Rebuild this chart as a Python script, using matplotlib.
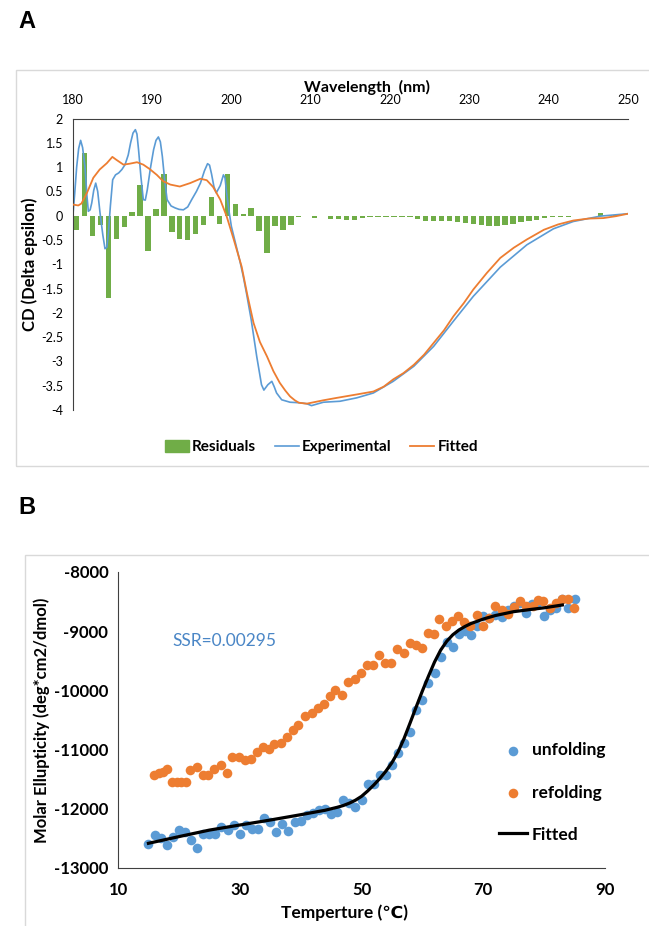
import matplotlib
matplotlib.use('Agg')
import matplotlib.pyplot as plt
import numpy as np
from matplotlib.patches import Rectangle, Patch
from matplotlib.lines import Line2D
from matplotlib.ticker import FuncFormatter

plt.rcParams['font.family'] = ['Lato', 'DejaVu Sans']
plt.rcParams['axes.unicode_minus'] = False

# ---- panel A data: CD spectrum ----
res_wl = np.arange(180.5, 250, 1.0)
res_cd = [-0.30, 1.30, -0.41, -0.19, -1.69, -0.49, -0.23, 0.08, 0.64, -0.72,
          0.14, 0.85, -0.34, -0.47, -0.51, -0.38, -0.19, 0.38, -0.17, 0.86,
          0.24, 0.04, 0.16, -0.32, -0.77, -0.21, -0.29, -0.20, -0.03, -0.01,
          -0.05, -0.01, -0.07, -0.07, -0.08, -0.08, -0.04, -0.03, -0.03, -0.03,
          -0.02, -0.02, -0.02, -0.06, -0.10, -0.10, -0.11, -0.12, -0.14, -0.15,
          -0.17, -0.19, -0.22, -0.22, -0.20, -0.17, -0.14, -0.11, -0.08, -0.05,
          -0.03, -0.02, -0.02, -0.01, -0.01, 0.00, 0.05, 0.01, 0.01, 0.00]

exp_wl = [180.0, 180.25, 180.5, 180.75, 181.0, 181.25, 181.55, 181.8, 181.97, 182.2,
          182.4, 182.65, 182.9, 183.15, 183.45, 183.8, 184.07, 184.3, 184.5, 184.75,
          185.04, 185.4, 185.8, 186.2, 186.6, 187.0, 187.3, 187.6, 187.9, 188.1,
          188.3, 188.6, 188.9, 189.15, 189.4, 189.8, 190.2, 190.5, 190.8, 191.05,
          191.3, 191.6, 191.9, 192.4, 192.9, 193.4, 193.95, 194.5, 195.0, 195.6,
          196.1, 196.6, 197.0, 197.25, 197.5, 197.8, 198.1, 198.6, 199.0, 199.2,
          199.4, 199.7, 200.0, 200.5, 201.1, 201.5, 201.9, 202.5, 203.2, 203.8,
          204.1, 204.6, 205.1, 205.4, 205.7, 206.35, 207.4, 208.5, 209.5, 210.1,
          211.6, 213.7, 215.8, 217.9, 220.4, 223.0, 225.5, 228.0, 230.5, 233.9,
          237.25, 240.6, 243.1, 246.5, 250.0]
exp_cd = [-0.05, 0.45, 1.00, 1.38, 1.55, 1.40, 1.00, 0.40, 0.09, 0.12,
          0.26, 0.52, 0.67, 0.50, 0.05, -0.40, -0.68, -0.65, -0.36, 0.20,
          0.74, 0.84, 0.88, 0.95, 1.05, 1.25, 1.50, 1.70, 1.77, 1.68,
          1.36, 0.80, 0.33, 0.32, 0.53, 0.98, 1.36, 1.55, 1.62, 1.52,
          1.22, 0.72, 0.33, 0.20, 0.16, 0.13, 0.12, 0.18, 0.33, 0.50,
          0.67, 0.92, 1.07, 1.04, 0.86, 0.60, 0.47, 0.62, 0.84, 0.78,
          0.47, 0.10, -0.22, -0.55, -0.95, -1.25, -1.59, -2.14, -2.90, -3.48,
          -3.59, -3.48, -3.41, -3.52, -3.65, -3.79, -3.84, -3.85, -3.87, -3.91,
          -3.84, -3.82, -3.75, -3.65, -3.41, -3.10, -2.69, -2.17, -1.66, -1.06,
          -0.60, -0.27, -0.12, -0.01, 0.04]

fit_wl = [180.0, 180.7, 181.1, 181.8, 182.6, 183.4, 184.3, 185.0, 185.5, 186.4,
          187.2, 188.1, 188.9, 189.7, 190.6, 191.4, 192.3, 193.5, 194.8, 196.1,
          196.9, 197.7, 198.6, 199.4, 200.3, 201.3, 202.0, 202.8, 203.6, 204.5,
          205.3, 206.1, 206.8, 207.4, 208.0, 208.5, 209.5, 211.6, 213.3, 215.8,
          217.9, 219.2, 220.4, 221.7, 223.0, 224.3, 225.5, 226.8, 228.0, 229.3,
          230.5, 232.2, 233.9, 235.6, 237.25, 239.4, 241.2, 243.1, 245.0, 246.9,
          248.5, 250.0]
fit_cd = [0.23, 0.21, 0.25, 0.47, 0.78, 0.95, 1.08, 1.21, 1.15, 1.05,
          1.07, 1.10, 1.05, 0.96, 0.84, 0.71, 0.64, 0.60, 0.67, 0.76,
          0.73, 0.59, 0.33, -0.01, -0.49, -1.05, -1.62, -2.21, -2.60, -2.90,
          -3.20, -3.44, -3.60, -3.72, -3.80, -3.85, -3.87, -3.80, -3.75, -3.68,
          -3.62, -3.52, -3.37, -3.24, -3.07, -2.86, -2.62, -2.36, -2.07, -1.80,
          -1.52, -1.18, -0.87, -0.66, -0.49, -0.29, -0.18, -0.10, -0.06, -0.05,
          -0.01, 0.04]

# ---- panel B data: thermal melt ----
unf_T = np.arange(15, 86)
unf_val = [-12600, -12450, -12500, -12615, -12475, -12350, -12390, -12530, -12670, -12420,
           -12420, -12430, -12305, -12360, -12280, -12430, -12280, -12335, -12335, -12150,
           -12220, -12390, -12250, -12370, -12220, -12205, -12110, -12070, -12025, -11995,
           -12080, -12050, -11855, -11910, -11965, -11855, -11585, -11585, -11430, -11430,
           -11260, -11065, -10895, -10710, -10330, -10160, -9880, -9710, -9430, -9190,
           -9260, -9045, -9005, -9060, -8920, -8750, -8780, -8720, -8760, -8640,
           -8580, -8525, -8695, -8535, -8500, -8750, -8640, -8610, -8455, -8610, -8455]

ref_T = [15.9, 16.7, 17.4, 18.0, 18.9, 19.7, 20.4, 21.1, 21.9, 22.9,
         24.0, 24.8, 25.7, 26.9, 27.9, 28.8, 29.8, 30.8, 31.9, 32.8,
         33.9, 34.8, 35.7, 36.8, 37.8, 38.7, 39.6, 40.8, 41.9, 42.9,
         43.9, 44.9, 45.7, 46.8, 47.8, 48.9, 49.9, 50.9, 51.9, 52.9,
         53.9, 54.9, 55.8, 57.0, 58.0, 58.9, 59.9, 60.9, 61.9, 62.8,
         63.8, 64.8, 65.9, 66.8, 67.9, 68.9, 70.0, 71.0, 72.0, 73.0,
         74.1, 75.1, 76.1, 77.1, 78.1, 79.0, 79.8, 80.9, 82.0, 83.0,
         83.9, 84.9]
ref_val = [-11430, -11400, -11375, -11335, -11545, -11545, -11545, -11545, -11345, -11290,
           -11430, -11430, -11335, -11260, -11400, -11120, -11130, -11180, -11165, -11035,
           -10950, -10995, -10910, -10895, -10780, -10670, -10585, -10430, -10385, -10300,
           -10230, -10095, -9990, -10075, -9850, -9805, -9710, -9570, -9570, -9400,
           -9530, -9530, -9305, -9360, -9200, -9230, -9285, -9035, -9045, -8795,
           -8920, -8835, -8740, -8850, -8920, -8720, -8920, -8780, -8580, -8640,
           -8705, -8595, -8495, -8570, -8570, -8470, -8495, -8610, -8525, -8455,
           -8455, -8610]

fitB_T = [15, 20, 25, 30, 35, 40, 44, 46, 47, 48, 49, 50, 51, 52, 53, 54, 55, 56, 57, 58, 59,
          60, 61, 62, 63, 64, 65, 66, 67, 68, 70, 72, 75, 78, 80, 83]
fitB_val = [-12583, -12470, -12360, -12274, -12190, -12100, -12025, -11975, -11945, -11905,
            -11855, -11790, -11700, -11600, -11490, -11365, -11220, -11040, -10810, -10545,
            -10275, -10010, -9760, -9520, -9320, -9170, -9060, -8980, -8920, -8870,
            -8795, -8735, -8670, -8630, -8605, -8557]

blue = '#5B9BD5'
orange = '#ED7D31'
green = '#70AD47'

W, H = 649, 926
fig = plt.figure(figsize=(W / 100, H / 100), dpi=100)

# chart-area frames
fig.add_artist(Rectangle((16 / W, 1 - 466 / H), 1.0, (466 - 70) / H, transform=fig.transFigure,
                         fill=False, ec='#D9D9D9', lw=1))
fig.add_artist(Rectangle((25 / W, -0.05), 1.0, 0.05 + 1 - 555 / H, transform=fig.transFigure,
                         fill=False, ec='#D9D9D9', lw=1))

fig.text(18 / W, 1 - 22 / H, 'A', fontsize=17, fontweight='bold', family='Liberation Sans',
         ha='left', va='center')
fig.text(18 / W, 1 - 508 / H, 'B', fontsize=17, fontweight='bold', family='Liberation Sans',
         ha='left', va='center')

# ---------------- panel A ----------------
axA = fig.add_axes([72.7 / W, 1 - 410 / H, (628 - 72.7) / W, (410 - 118.5) / H])
axA.bar(res_wl, res_cd, width=0.68, color=green, zorder=1)
axA.plot(exp_wl, exp_cd, color=blue, lw=1.2, zorder=2, solid_joinstyle='round')
axA.plot(fit_wl, fit_cd, color=orange, lw=1.3, zorder=3, solid_joinstyle='round')
axA.set_xlim(180, 250)
axA.set_ylim(-4, 2)
axA.set_xticks(np.arange(180, 251, 10))
axA.set_yticks(np.arange(-4, 2.01, 0.5))
axA.yaxis.set_major_formatter(FuncFormatter(lambda v, p: '%g' % v))
axA.xaxis.tick_top()
axA.tick_params(axis='x', length=0, pad=9, labelsize=9)
axA.tick_params(axis='y', length=0, pad=7, labelsize=9)
for s in ['right', 'bottom']:
    axA.spines[s].set_visible(False)
axA.spines['top'].set_color('#404040')
axA.spines['left'].set_color('#404040')
axA.text(0.53, 1.105, 'Wavelength  (nm)', transform=axA.transAxes, ha='center', va='center',
         fontsize=11.5, fontweight='bold')
axA.text(-0.077, 0.5, 'CD (Delta epsilon)', transform=axA.transAxes, rotation=90,
         ha='center', va='center', fontsize=12, fontweight='bold')

handlesA = [Patch(color=green), Line2D([], [], color=blue, lw=1.2), Line2D([], [], color=orange, lw=1.3)]
fig.legend(handlesA, ['Residuals', 'Experimental', 'Fitted'], ncol=3, loc='center',
           bbox_to_anchor=(0.495, 1 - 447 / H), frameon=False, handlelength=1.6,
           handleheight=0.9, columnspacing=1.2, handletextpad=0.2,
           prop={'weight': 'bold', 'size': 11})

# ---------------- panel B ----------------
axB = fig.add_axes([118 / W, 1 - 868 / H, (605 - 118) / W, (868 - 572) / H])
axB.scatter(unf_T, unf_val, s=48, color=blue, lw=0, zorder=2, label='unfolding')
axB.scatter(ref_T, ref_val, s=48, color=orange, lw=0, zorder=3, label='refolding')
axB.plot(fitB_T, fitB_val, color='black', lw=2.3, zorder=4, label='Fitted')
axB.set_xlim(10, 90)
axB.set_ylim(-13000, -8000)
axB.set_xticks([10, 30, 50, 70, 90])
axB.set_yticks(np.arange(-13000, -7999, 1000))
axB.tick_params(length=0, labelsize=12)
axB.tick_params(axis='x', pad=10)
axB.tick_params(axis='y', pad=7)
for lab in axB.get_xticklabels() + axB.get_yticklabels():
    lab.set_fontweight('bold')
for s in ['right', 'top']:
    axB.spines[s].set_visible(False)
axB.spines['left'].set_color('#404040')
axB.spines['bottom'].set_color('#404040')
axB.text(0.466, -0.15, 'Temperture (\u2103)', transform=axB.transAxes, ha='center', va='center',
         fontsize=12.5, fontweight='bold')
axB.text(-0.157, 0.5, 'Molar Ellupticity (deg*cm2/dmol)', transform=axB.transAxes, rotation=90,
         ha='center', va='center', fontsize=12, fontweight='bold')
axB.text(27.5, -9160, 'SSR=0.00295', color='#4A86C6', fontsize=12.5, ha='center', va='center')

axB.legend(loc='center left', bbox_to_anchor=(0.75, 0.255), frameon=False, labelspacing=1.5,
           handlelength=1.6, handletextpad=0.3, prop={'weight': 'bold', 'size': 12.5})

fig.savefig('out.png', dpi=100)
